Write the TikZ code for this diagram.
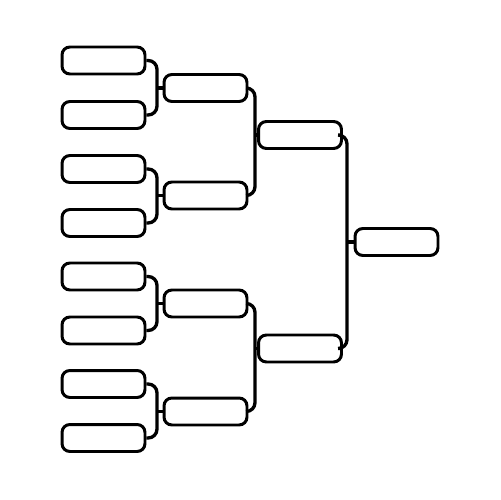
\documentclass[tikz,border=0pt]{standalone}
\begin{document}
\begin{tikzpicture}[x=0.02cm,y=-0.02cm,
  box/.style={draw, line width=1.7pt, rounded corners=4.5pt, minimum width=1.66cm, minimum height=0.54cm, inner sep=0pt},
  link/.style={draw, line width=1.9pt, rounded corners=5pt}]
\useasboundingbox (0,0) rectangle (500,500);
% column 1
\node[box] (a1) at (103.5,60.5) {};
\node[box] (a2) at (103.5,115) {};
\node[box] (a3) at (103.5,169) {};
\node[box] (a4) at (103.5,223) {};
\node[box] (a5) at (103.5,276.5) {};
\node[box] (a6) at (103.5,330.5) {};
\node[box] (a7) at (103.5,384) {};
\node[box] (a8) at (103.5,438) {};
% column 2
\node[box] (b1) at (205.5,88) {};
\node[box] (b2) at (205.5,195.5) {};
\node[box] (b3) at (205.5,303.5) {};
\node[box] (b4) at (205.5,411.5) {};
% column 3
\node[box] (c1) at (300,135) {};
\node[box] (c2) at (300,348.5) {};
% final
\node[box] (f) at (396.5,242) {};
% vertical coordinates
\coordinate (v1) at (157,88);
\coordinate (v2) at (157,195.5);
\coordinate (v3) at (157,303.5);
\coordinate (v4) at (157,411.5);
\coordinate (w1) at (255,135);
\coordinate (w2) at (255,348.5);
\coordinate (z1) at (347,242);
% brackets col1 -> col2
\draw[link] (a1.east) -| (v1) |- (a2.east);
\draw[link] (v1) -- (b1.west);
\draw[link] (a3.east) -| (v2) |- (a4.east);
\draw[link] (v2) -- (b2.west);
\draw[link] (a5.east) -| (v3) |- (a6.east);
\draw[link] (v3) -- (b3.west);
\draw[link] (a7.east) -| (v4) |- (a8.east);
\draw[link] (v4) -- (b4.west);
% col2 -> col3
\draw[link] (b1.east) -| (w1) |- (b2.east);
\draw[link] (w1) -- (c1.west);
\draw[link] (b3.east) -| (w2) |- (b4.east);
\draw[link] (w2) -- (c2.west);
% col3 -> final
\draw[link] (c1.east) -| (z1) |- (c2.east);
\draw[link] (z1) -- (f.west);
\end{tikzpicture}
\end{document}
